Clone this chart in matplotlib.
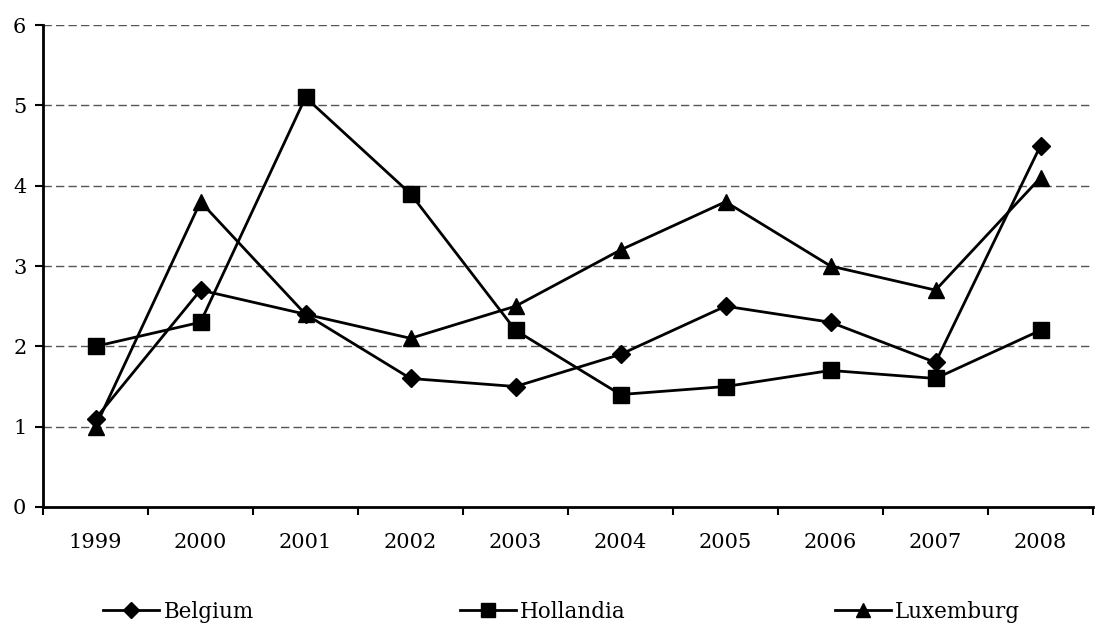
import matplotlib
matplotlib.use("Agg")
import matplotlib.pyplot as plt
from matplotlib.lines import Line2D
from matplotlib.ticker import FixedLocator, NullFormatter

years = ["1999", "2000", "2001", "2002", "2003", "2004", "2005", "2006", "2007", "2008"]
belgium = [1.1, 2.7, 2.4, 1.6, 1.5, 1.9, 2.5, 2.3, 1.8, 4.5]
hollandia = [2.0, 2.3, 5.1, 3.9, 2.2, 1.4, 1.5, 1.7, 1.6, 2.2]
luxemburg = [1.0, 3.8, 2.4, 2.1, 2.5, 3.2, 3.8, 3.0, 2.7, 4.1]

plt.rcParams['font.family'] = ['DejaVu Serif']

fig = plt.figure(figsize=(10.97, 6.27), dpi=100)
ax = fig.add_axes([0.0392, 0.1914, 0.9572, 0.7686])

x = list(range(len(years)))
series = [
    ("Belgium", belgium, "D", 9),
    ("Hollandia", hollandia, "s", 11),
    ("Luxemburg", luxemburg, "^", 12),
]
for name, vals, mk, ms in series:
    ax.plot(x, vals, color="black", lw=2, marker=mk, ms=ms, label=name, zorder=3)

ax.set_xlim(-0.5, len(years) - 0.5)
ax.set_ylim(0, 6)
ax.set_yticks(range(0, 7))
ax.set_yticklabels([str(v) for v in range(0, 7)])

# year labels centred on categories, tick marks on the boundaries
ax.xaxis.set_major_locator(FixedLocator([i - 0.5 for i in range(len(years) + 1)]))
ax.xaxis.set_major_formatter(NullFormatter())
ax.xaxis.set_minor_locator(FixedLocator(x))
ax.set_xticklabels(years, minor=True)
ax.tick_params(axis="x", which="minor", length=0, pad=19, labelsize=15)
ax.tick_params(axis="x", which="major", length=6, width=1.5, direction="out")
ax.tick_params(axis="y", length=6, width=1.5, direction="out", labelsize=15, pad=6)

for v in range(1, 7):
    ax.axhline(v, color="#555555", lw=1, ls=(0, (6, 3)), zorder=1)

for s in ["top", "right"]:
    ax.spines[s].set_visible(False)
ax.spines["left"].set_linewidth(2)
ax.spines["bottom"].set_linewidth(2)

# one legend entry per column, placed along the bottom
legend_x = [0.094, 0.419, 0.761]
legend_ms = {"D": 8, "s": 10, "^": 10}
for (name, vals, mk, ms), lx in zip(series, legend_x):
    h = Line2D([], [], color="black", lw=2, marker=mk, ms=legend_ms[mk])
    fig.legend([h], [name], loc="center left", bbox_to_anchor=(lx, 0.024),
               frameon=False, borderpad=0, borderaxespad=0,
               prop={"size": 15.5}, handlelength=2.6, handletextpad=0.2)

fig.savefig("out.png", dpi=100)
